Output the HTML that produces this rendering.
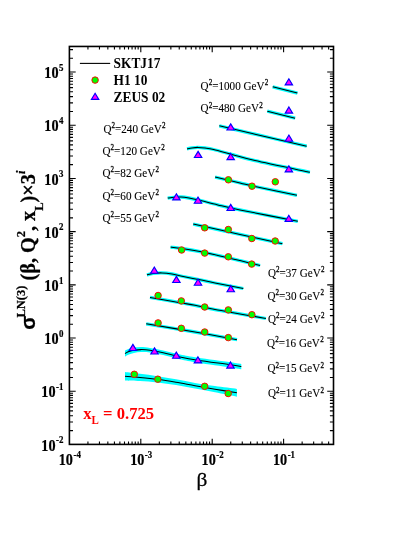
<!DOCTYPE html>
<html><head><meta charset="utf-8"><title>chart</title>
<style>html,body{margin:0;padding:0;background:#fff;}svg{display:block;will-change:transform;}</style></head>
<body><svg width="415" height="537" viewBox="0 0 415 537">
<rect width="415" height="537" fill="#fff"/>
<path d="M125.00,372.10 C127.50,372.39 134.60,373.17 140.00,373.85 C145.40,374.52 151.40,375.23 157.40,376.15 C163.40,377.07 169.73,378.22 176.00,379.35 C182.27,380.47 188.50,381.77 195.00,382.90 C201.50,384.02 208.02,385.10 215.00,386.10 C221.98,387.10 233.25,388.43 236.90,388.90 L236.90,396.70 C233.25,395.97 221.98,393.67 215.00,392.30 C208.02,390.93 201.50,389.71 195.00,388.50 C188.50,387.29 182.27,386.06 176.00,385.05 C169.73,384.04 163.40,383.12 157.40,382.45 C151.40,381.78 145.40,381.38 140.00,381.05 C134.60,380.73 127.50,380.59 125.00,380.50 Z" fill="#00ffff"/>
<path d="M125.00,350.50 C125.67,350.21 127.50,349.23 129.00,348.75 C130.50,348.27 132.00,347.88 134.00,347.60 C136.00,347.33 138.33,347.05 141.00,347.10 C143.67,347.15 146.30,347.34 150.00,347.90 C153.70,348.46 158.20,349.34 163.20,350.45 C168.20,351.56 174.22,353.33 180.00,354.55 C185.78,355.77 189.48,356.48 197.90,357.75 C206.32,359.02 223.27,361.17 230.50,362.20 C237.73,363.23 239.50,363.62 241.30,363.90 L241.30,369.30 C239.50,368.98 237.73,368.51 230.50,367.40 C223.27,366.29 206.32,364.01 197.90,362.65 C189.48,361.29 185.78,360.53 180.00,359.25 C174.22,357.97 168.20,356.07 163.20,354.95 C158.20,353.82 153.70,352.98 150.00,352.50 C146.30,352.02 143.67,352.02 141.00,352.10 C138.33,352.18 136.00,352.61 134.00,353.00 C132.00,353.39 130.50,353.87 129.00,354.45 C127.50,355.03 125.67,356.16 125.00,356.50 Z" fill="#00ffff"/>
<path d="M272.70,86.80 L297.40,93.10" fill="none" stroke="#00ffff" stroke-width="3.3" stroke-linecap="butt" stroke-linejoin="round"/>
<path d="M267.30,111.20 L295.10,118.20" fill="none" stroke="#00ffff" stroke-width="3.3" stroke-linecap="butt" stroke-linejoin="round"/>
<path d="M219.30,125.80 C225.25,127.20 240.43,130.80 255.00,134.20 C269.57,137.60 298.08,144.20 306.70,146.20" fill="none" stroke="#00ffff" stroke-width="3.3" stroke-linecap="butt" stroke-linejoin="round"/>
<path d="M187.00,148.90 C187.83,148.73 190.17,148.15 192.00,147.90 C193.83,147.65 195.83,147.38 198.00,147.40 C200.17,147.42 202.40,147.65 205.00,148.00 C207.60,148.35 208.97,148.38 213.60,149.50 C218.23,150.62 225.90,152.85 232.80,154.70 C239.70,156.55 242.15,157.67 255.00,160.60 C267.85,163.53 300.75,170.35 309.90,172.30" fill="none" stroke="#00ffff" stroke-width="3.3" stroke-linecap="butt" stroke-linejoin="round"/>
<path d="M215.10,177.10 C219.25,178.07 233.35,181.33 240.00,182.90 C246.65,184.47 245.52,184.43 255.00,186.50 C264.48,188.57 289.92,193.83 296.90,195.30" fill="none" stroke="#00ffff" stroke-width="3.3" stroke-linecap="butt" stroke-linejoin="round"/>
<path d="M167.70,198.10 C168.75,197.97 171.75,197.48 174.00,197.30 C176.25,197.12 178.70,196.88 181.20,197.00 C183.70,197.12 186.10,197.50 189.00,198.00 C191.90,198.50 193.80,198.85 198.60,200.00 C203.40,201.15 210.90,203.25 217.80,204.90 C224.70,206.55 226.67,207.17 240.00,209.90 C253.33,212.63 288.17,219.40 297.80,221.30" fill="none" stroke="#00ffff" stroke-width="3.3" stroke-linecap="butt" stroke-linejoin="round"/>
<path d="M193.20,224.10 C201.00,225.82 225.13,231.13 240.00,234.40 C254.87,237.67 275.33,242.15 282.40,243.70" fill="none" stroke="#00ffff" stroke-width="3.3" stroke-linecap="butt" stroke-linejoin="round"/>
<path d="M170.60,247.10 C173.00,247.42 180.10,248.25 185.00,249.00 C189.90,249.75 194.17,250.45 200.00,251.60 C205.83,252.75 213.33,254.40 220.00,255.90 C226.67,257.40 233.32,259.00 240.00,260.60 C246.68,262.20 256.75,264.68 260.10,265.50" fill="none" stroke="#00ffff" stroke-width="3.3" stroke-linecap="butt" stroke-linejoin="round"/>
<path d="M146.95,274.90 C147.96,274.65 150.49,273.73 153.00,273.40 C155.51,273.07 158.83,272.80 162.00,272.90 C165.17,273.00 168.47,273.40 172.00,274.00 C175.53,274.60 178.53,275.53 183.20,276.50 C187.87,277.47 194.70,278.72 200.00,279.80 C205.30,280.88 207.78,281.55 215.00,283.00 C222.22,284.45 238.58,287.58 243.30,288.50" fill="none" stroke="#00ffff" stroke-width="3.3" stroke-linecap="butt" stroke-linejoin="round"/>
<path d="M150.00,297.40 C155.00,298.28 172.50,301.38 180.00,302.70 C187.50,304.02 189.17,304.15 195.00,305.30 C200.83,306.45 207.50,308.17 215.00,309.60 C222.50,311.03 231.52,312.42 240.00,313.90 C248.48,315.38 261.58,317.73 265.90,318.50" fill="none" stroke="#00ffff" stroke-width="3.3" stroke-linecap="butt" stroke-linejoin="round"/>
<path d="M146.20,323.80 C154.33,325.17 179.87,329.35 195.00,332.00 C210.13,334.65 230.00,338.42 237.00,339.70" fill="none" stroke="#00ffff" stroke-width="3.3" stroke-linecap="butt" stroke-linejoin="round"/>
<path d="M272.70,86.80 L297.40,93.10" fill="none" stroke="#000" stroke-width="1.05" stroke-linejoin="round"/>
<path d="M267.30,111.20 L295.10,118.20" fill="none" stroke="#000" stroke-width="1.05" stroke-linejoin="round"/>
<path d="M219.30,125.80 C225.25,127.20 240.43,130.80 255.00,134.20 C269.57,137.60 298.08,144.20 306.70,146.20" fill="none" stroke="#000" stroke-width="1.05" stroke-linejoin="round"/>
<path d="M187.00,148.90 C187.83,148.73 190.17,148.15 192.00,147.90 C193.83,147.65 195.83,147.38 198.00,147.40 C200.17,147.42 202.40,147.65 205.00,148.00 C207.60,148.35 208.97,148.38 213.60,149.50 C218.23,150.62 225.90,152.85 232.80,154.70 C239.70,156.55 242.15,157.67 255.00,160.60 C267.85,163.53 300.75,170.35 309.90,172.30" fill="none" stroke="#000" stroke-width="1.05" stroke-linejoin="round"/>
<path d="M215.10,177.10 C219.25,178.07 233.35,181.33 240.00,182.90 C246.65,184.47 245.52,184.43 255.00,186.50 C264.48,188.57 289.92,193.83 296.90,195.30" fill="none" stroke="#000" stroke-width="1.05" stroke-linejoin="round"/>
<path d="M167.70,198.10 C168.75,197.97 171.75,197.48 174.00,197.30 C176.25,197.12 178.70,196.88 181.20,197.00 C183.70,197.12 186.10,197.50 189.00,198.00 C191.90,198.50 193.80,198.85 198.60,200.00 C203.40,201.15 210.90,203.25 217.80,204.90 C224.70,206.55 226.67,207.17 240.00,209.90 C253.33,212.63 288.17,219.40 297.80,221.30" fill="none" stroke="#000" stroke-width="1.05" stroke-linejoin="round"/>
<path d="M193.20,224.10 C201.00,225.82 225.13,231.13 240.00,234.40 C254.87,237.67 275.33,242.15 282.40,243.70" fill="none" stroke="#000" stroke-width="1.05" stroke-linejoin="round"/>
<path d="M170.60,247.10 C173.00,247.42 180.10,248.25 185.00,249.00 C189.90,249.75 194.17,250.45 200.00,251.60 C205.83,252.75 213.33,254.40 220.00,255.90 C226.67,257.40 233.32,259.00 240.00,260.60 C246.68,262.20 256.75,264.68 260.10,265.50" fill="none" stroke="#000" stroke-width="1.05" stroke-linejoin="round"/>
<path d="M146.95,274.90 C147.96,274.65 150.49,273.73 153.00,273.40 C155.51,273.07 158.83,272.80 162.00,272.90 C165.17,273.00 168.47,273.40 172.00,274.00 C175.53,274.60 178.53,275.53 183.20,276.50 C187.87,277.47 194.70,278.72 200.00,279.80 C205.30,280.88 207.78,281.55 215.00,283.00 C222.22,284.45 238.58,287.58 243.30,288.50" fill="none" stroke="#000" stroke-width="1.05" stroke-linejoin="round"/>
<path d="M150.00,297.40 C155.00,298.28 172.50,301.38 180.00,302.70 C187.50,304.02 189.17,304.15 195.00,305.30 C200.83,306.45 207.50,308.17 215.00,309.60 C222.50,311.03 231.52,312.42 240.00,313.90 C248.48,315.38 261.58,317.73 265.90,318.50" fill="none" stroke="#000" stroke-width="1.05" stroke-linejoin="round"/>
<path d="M146.20,323.80 C154.33,325.17 179.87,329.35 195.00,332.00 C210.13,334.65 230.00,338.42 237.00,339.70" fill="none" stroke="#000" stroke-width="1.05" stroke-linejoin="round"/>
<path d="M125.00,353.50 C125.67,353.18 127.50,352.13 129.00,351.60 C130.50,351.07 132.00,350.63 134.00,350.30 C136.00,349.97 138.33,349.62 141.00,349.60 C143.67,349.58 146.30,349.68 150.00,350.20 C153.70,350.72 158.20,351.58 163.20,352.70 C168.20,353.82 174.22,355.65 180.00,356.90 C185.78,358.15 189.48,358.88 197.90,360.20 C206.32,361.52 223.27,363.73 230.50,364.80 C237.73,365.87 239.50,366.30 241.30,366.60" fill="none" stroke="#000" stroke-width="1.05" stroke-linejoin="round"/>
<path d="M125.00,376.30 C127.50,376.49 134.60,376.95 140.00,377.45 C145.40,377.95 151.40,378.51 157.40,379.30 C163.40,380.09 169.73,381.13 176.00,382.20 C182.27,383.27 188.50,384.53 195.00,385.70 C201.50,386.87 208.02,388.02 215.00,389.20 C221.98,390.38 233.25,392.20 236.90,392.80" fill="none" stroke="#000" stroke-width="1.05" stroke-linejoin="round"/>
<circle cx="228.4" cy="179.8" r="3.25" fill="#00ff00" stroke="#ff0000" stroke-width="0.95"/>
<circle cx="252.0" cy="186.2" r="3.25" fill="#00ff00" stroke="#ff0000" stroke-width="0.95"/>
<circle cx="275.3" cy="181.8" r="3.25" fill="#00ff00" stroke="#ff0000" stroke-width="0.95"/>
<circle cx="204.7" cy="227.8" r="3.25" fill="#00ff00" stroke="#ff0000" stroke-width="0.95"/>
<circle cx="228.3" cy="229.5" r="3.25" fill="#00ff00" stroke="#ff0000" stroke-width="0.95"/>
<circle cx="251.8" cy="238.5" r="3.25" fill="#00ff00" stroke="#ff0000" stroke-width="0.95"/>
<circle cx="275.2" cy="241.0" r="3.25" fill="#00ff00" stroke="#ff0000" stroke-width="0.95"/>
<circle cx="181.6" cy="250.0" r="3.25" fill="#00ff00" stroke="#ff0000" stroke-width="0.95"/>
<circle cx="204.7" cy="253.1" r="3.25" fill="#00ff00" stroke="#ff0000" stroke-width="0.95"/>
<circle cx="228.3" cy="256.8" r="3.25" fill="#00ff00" stroke="#ff0000" stroke-width="0.95"/>
<circle cx="251.7" cy="264.1" r="3.25" fill="#00ff00" stroke="#ff0000" stroke-width="0.95"/>
<circle cx="158.1" cy="295.5" r="3.25" fill="#00ff00" stroke="#ff0000" stroke-width="0.95"/>
<circle cx="181.3" cy="300.9" r="3.25" fill="#00ff00" stroke="#ff0000" stroke-width="0.95"/>
<circle cx="204.7" cy="307.0" r="3.25" fill="#00ff00" stroke="#ff0000" stroke-width="0.95"/>
<circle cx="228.3" cy="309.9" r="3.25" fill="#00ff00" stroke="#ff0000" stroke-width="0.95"/>
<circle cx="251.9" cy="314.7" r="3.25" fill="#00ff00" stroke="#ff0000" stroke-width="0.95"/>
<circle cx="158.1" cy="322.9" r="3.25" fill="#00ff00" stroke="#ff0000" stroke-width="0.95"/>
<circle cx="181.3" cy="328.3" r="3.25" fill="#00ff00" stroke="#ff0000" stroke-width="0.95"/>
<circle cx="204.7" cy="332.0" r="3.25" fill="#00ff00" stroke="#ff0000" stroke-width="0.95"/>
<circle cx="228.3" cy="337.6" r="3.25" fill="#00ff00" stroke="#ff0000" stroke-width="0.95"/>
<circle cx="134.3" cy="374.3" r="3.25" fill="#00ff00" stroke="#ff0000" stroke-width="0.95"/>
<circle cx="157.8" cy="379.2" r="3.25" fill="#00ff00" stroke="#ff0000" stroke-width="0.95"/>
<circle cx="204.7" cy="386.3" r="3.25" fill="#00ff00" stroke="#ff0000" stroke-width="0.95"/>
<circle cx="228.2" cy="393.5" r="3.25" fill="#00ff00" stroke="#ff0000" stroke-width="0.95"/>
<path d="M288.85,78.75 L292.55,84.90 L285.15,84.90 Z" fill="#ff00ff" stroke="#0000ff" stroke-width="1.15" stroke-linejoin="miter"/>
<path d="M288.90,106.95 L292.60,113.10 L285.20,113.10 Z" fill="#ff00ff" stroke="#0000ff" stroke-width="1.15" stroke-linejoin="miter"/>
<path d="M230.70,123.85 L234.40,130.00 L227.00,130.00 Z" fill="#ff00ff" stroke="#0000ff" stroke-width="1.15" stroke-linejoin="miter"/>
<path d="M288.90,135.05 L292.60,141.20 L285.20,141.20 Z" fill="#ff00ff" stroke="#0000ff" stroke-width="1.15" stroke-linejoin="miter"/>
<path d="M198.10,151.35 L201.80,157.50 L194.40,157.50 Z" fill="#ff00ff" stroke="#0000ff" stroke-width="1.15" stroke-linejoin="miter"/>
<path d="M230.70,153.45 L234.40,159.60 L227.00,159.60 Z" fill="#ff00ff" stroke="#0000ff" stroke-width="1.15" stroke-linejoin="miter"/>
<path d="M288.85,165.75 L292.55,171.90 L285.15,171.90 Z" fill="#ff00ff" stroke="#0000ff" stroke-width="1.15" stroke-linejoin="miter"/>
<path d="M176.40,193.75 L180.10,199.90 L172.70,199.90 Z" fill="#ff00ff" stroke="#0000ff" stroke-width="1.15" stroke-linejoin="miter"/>
<path d="M198.00,197.05 L201.70,203.20 L194.30,203.20 Z" fill="#ff00ff" stroke="#0000ff" stroke-width="1.15" stroke-linejoin="miter"/>
<path d="M230.70,204.35 L234.40,210.50 L227.00,210.50 Z" fill="#ff00ff" stroke="#0000ff" stroke-width="1.15" stroke-linejoin="miter"/>
<path d="M288.80,215.25 L292.50,221.40 L285.10,221.40 Z" fill="#ff00ff" stroke="#0000ff" stroke-width="1.15" stroke-linejoin="miter"/>
<path d="M154.30,267.05 L158.00,273.20 L150.60,273.20 Z" fill="#ff00ff" stroke="#0000ff" stroke-width="1.15" stroke-linejoin="miter"/>
<path d="M176.40,276.35 L180.10,282.50 L172.70,282.50 Z" fill="#ff00ff" stroke="#0000ff" stroke-width="1.15" stroke-linejoin="miter"/>
<path d="M198.00,279.05 L201.70,285.20 L194.30,285.20 Z" fill="#ff00ff" stroke="#0000ff" stroke-width="1.15" stroke-linejoin="miter"/>
<path d="M230.75,285.60 L234.45,291.75 L227.05,291.75 Z" fill="#ff00ff" stroke="#0000ff" stroke-width="1.15" stroke-linejoin="miter"/>
<path d="M132.90,344.35 L136.60,350.50 L129.20,350.50 Z" fill="#ff00ff" stroke="#0000ff" stroke-width="1.15" stroke-linejoin="miter"/>
<path d="M154.50,347.85 L158.20,354.00 L150.80,354.00 Z" fill="#ff00ff" stroke="#0000ff" stroke-width="1.15" stroke-linejoin="miter"/>
<path d="M176.30,352.05 L180.00,358.20 L172.60,358.20 Z" fill="#ff00ff" stroke="#0000ff" stroke-width="1.15" stroke-linejoin="miter"/>
<path d="M197.90,356.75 L201.60,362.90 L194.20,362.90 Z" fill="#ff00ff" stroke="#0000ff" stroke-width="1.15" stroke-linejoin="miter"/>
<path d="M230.50,361.95 L234.20,368.10 L226.80,368.10 Z" fill="#ff00ff" stroke="#0000ff" stroke-width="1.15" stroke-linejoin="miter"/>
<rect x="69.4" y="46.45" width="264.1" height="397.95" fill="none" stroke="#000" stroke-width="1.6"/>
<path d="M87.94,444.40L87.94,441.40M87.94,46.45L87.94,49.45M99.46,444.40L99.46,441.40M99.46,46.45L99.46,49.45M107.84,444.40L107.84,441.40M107.84,46.45L107.84,49.45M114.43,444.40L114.43,441.40M114.43,46.45L114.43,49.45M119.87,444.40L119.87,441.40M119.87,46.45L119.87,49.45M124.49,444.40L124.49,441.40M124.49,46.45L124.49,49.45M128.51,444.40L128.51,441.40M128.51,46.45L128.51,49.45M132.07,444.40L132.07,441.40M132.07,46.45L132.07,49.45M135.26,444.40L135.26,441.40M135.26,46.45L135.26,49.45M138.15,444.40L138.15,441.40M138.15,46.45L138.15,49.45M140.80,444.40L140.80,438.70M140.80,46.45L140.80,52.15M159.34,444.40L159.34,441.40M159.34,46.45L159.34,49.45M170.86,444.40L170.86,441.40M170.86,46.45L170.86,49.45M179.24,444.40L179.24,441.40M179.24,46.45L179.24,49.45M185.83,444.40L185.83,441.40M185.83,46.45L185.83,49.45M191.27,444.40L191.27,441.40M191.27,46.45L191.27,49.45M195.89,444.40L195.89,441.40M195.89,46.45L195.89,49.45M199.91,444.40L199.91,441.40M199.91,46.45L199.91,49.45M203.47,444.40L203.47,441.40M203.47,46.45L203.47,49.45M206.66,444.40L206.66,441.40M206.66,46.45L206.66,49.45M209.55,444.40L209.55,441.40M209.55,46.45L209.55,49.45M212.20,444.40L212.20,438.70M212.20,46.45L212.20,52.15M230.74,444.40L230.74,441.40M230.74,46.45L230.74,49.45M242.26,444.40L242.26,441.40M242.26,46.45L242.26,49.45M250.64,444.40L250.64,441.40M250.64,46.45L250.64,49.45M257.23,444.40L257.23,441.40M257.23,46.45L257.23,49.45M262.67,444.40L262.67,441.40M262.67,46.45L262.67,49.45M267.29,444.40L267.29,441.40M267.29,46.45L267.29,49.45M271.31,444.40L271.31,441.40M271.31,46.45L271.31,49.45M274.87,444.40L274.87,441.40M274.87,46.45L274.87,49.45M278.06,444.40L278.06,441.40M278.06,46.45L278.06,49.45M280.95,444.40L280.95,441.40M280.95,46.45L280.95,49.45M283.60,444.40L283.60,438.70M283.60,46.45L283.60,52.15M302.14,444.40L302.14,441.40M302.14,46.45L302.14,49.45M313.66,444.40L313.66,441.40M313.66,46.45L313.66,49.45M322.04,444.40L322.04,441.40M322.04,46.45L322.04,49.45M328.63,444.40L328.63,441.40M328.63,46.45L328.63,49.45M69.40,430.64L73.00,430.64M333.50,430.64L329.90,430.64M69.40,422.05L73.00,422.05M333.50,422.05L329.90,422.05M69.40,415.81L73.00,415.81M333.50,415.81L329.90,415.81M69.40,410.90L73.00,410.90M333.50,410.90L329.90,410.90M69.40,406.85L73.00,406.85M333.50,406.85L329.90,406.85M69.40,403.41L73.00,403.41M333.50,403.41L329.90,403.41M69.40,400.41L73.00,400.41M333.50,400.41L329.90,400.41M69.40,397.76L73.00,397.76M333.50,397.76L329.90,397.76M69.40,395.38L73.00,395.38M333.50,395.38L329.90,395.38M69.40,393.22L73.00,393.22M333.50,393.22L329.90,393.22M69.40,391.25L75.70,391.25M333.50,391.25L327.20,391.25M69.40,377.44L73.00,377.44M333.50,377.44L329.90,377.44M69.40,368.85L73.00,368.85M333.50,368.85L329.90,368.85M69.40,362.61L73.00,362.61M333.50,362.61L329.90,362.61M69.40,357.70L73.00,357.70M333.50,357.70L329.90,357.70M69.40,353.65L73.00,353.65M333.50,353.65L329.90,353.65M69.40,350.21L73.00,350.21M333.50,350.21L329.90,350.21M69.40,347.21L73.00,347.21M333.50,347.21L329.90,347.21M69.40,344.56L73.00,344.56M333.50,344.56L329.90,344.56M69.40,342.18L73.00,342.18M333.50,342.18L329.90,342.18M69.40,340.02L73.00,340.02M333.50,340.02L329.90,340.02M69.40,338.05L75.70,338.05M333.50,338.05L327.20,338.05M69.40,324.24L73.00,324.24M333.50,324.24L329.90,324.24M69.40,315.65L73.00,315.65M333.50,315.65L329.90,315.65M69.40,309.41L73.00,309.41M333.50,309.41L329.90,309.41M69.40,304.50L73.00,304.50M333.50,304.50L329.90,304.50M69.40,300.45L73.00,300.45M333.50,300.45L329.90,300.45M69.40,297.01L73.00,297.01M333.50,297.01L329.90,297.01M69.40,294.01L73.00,294.01M333.50,294.01L329.90,294.01M69.40,291.36L73.00,291.36M333.50,291.36L329.90,291.36M69.40,288.98L73.00,288.98M333.50,288.98L329.90,288.98M69.40,286.82L73.00,286.82M333.50,286.82L329.90,286.82M69.40,284.85L75.70,284.85M333.50,284.85L327.20,284.85M69.40,271.04L73.00,271.04M333.50,271.04L329.90,271.04M69.40,262.45L73.00,262.45M333.50,262.45L329.90,262.45M69.40,256.21L73.00,256.21M333.50,256.21L329.90,256.21M69.40,251.30L73.00,251.30M333.50,251.30L329.90,251.30M69.40,247.25L73.00,247.25M333.50,247.25L329.90,247.25M69.40,243.81L73.00,243.81M333.50,243.81L329.90,243.81M69.40,240.81L73.00,240.81M333.50,240.81L329.90,240.81M69.40,238.16L73.00,238.16M333.50,238.16L329.90,238.16M69.40,235.78L73.00,235.78M333.50,235.78L329.90,235.78M69.40,233.62L73.00,233.62M333.50,233.62L329.90,233.62M69.40,231.65L75.70,231.65M333.50,231.65L327.20,231.65M69.40,217.84L73.00,217.84M333.50,217.84L329.90,217.84M69.40,209.25L73.00,209.25M333.50,209.25L329.90,209.25M69.40,203.01L73.00,203.01M333.50,203.01L329.90,203.01M69.40,198.10L73.00,198.10M333.50,198.10L329.90,198.10M69.40,194.05L73.00,194.05M333.50,194.05L329.90,194.05M69.40,190.61L73.00,190.61M333.50,190.61L329.90,190.61M69.40,187.61L73.00,187.61M333.50,187.61L329.90,187.61M69.40,184.96L73.00,184.96M333.50,184.96L329.90,184.96M69.40,182.58L73.00,182.58M333.50,182.58L329.90,182.58M69.40,180.42L73.00,180.42M333.50,180.42L329.90,180.42M69.40,178.45L75.70,178.45M333.50,178.45L327.20,178.45M69.40,164.64L73.00,164.64M333.50,164.64L329.90,164.64M69.40,156.05L73.00,156.05M333.50,156.05L329.90,156.05M69.40,149.81L73.00,149.81M333.50,149.81L329.90,149.81M69.40,144.90L73.00,144.90M333.50,144.90L329.90,144.90M69.40,140.85L73.00,140.85M333.50,140.85L329.90,140.85M69.40,137.41L73.00,137.41M333.50,137.41L329.90,137.41M69.40,134.41L73.00,134.41M333.50,134.41L329.90,134.41M69.40,131.76L73.00,131.76M333.50,131.76L329.90,131.76M69.40,129.38L73.00,129.38M333.50,129.38L329.90,129.38M69.40,127.22L73.00,127.22M333.50,127.22L329.90,127.22M69.40,125.25L75.70,125.25M333.50,125.25L327.20,125.25M69.40,111.44L73.00,111.44M333.50,111.44L329.90,111.44M69.40,102.85L73.00,102.85M333.50,102.85L329.90,102.85M69.40,96.61L73.00,96.61M333.50,96.61L329.90,96.61M69.40,91.70L73.00,91.70M333.50,91.70L329.90,91.70M69.40,87.65L73.00,87.65M333.50,87.65L329.90,87.65M69.40,84.21L73.00,84.21M333.50,84.21L329.90,84.21M69.40,81.21L73.00,81.21M333.50,81.21L329.90,81.21M69.40,78.56L73.00,78.56M333.50,78.56L329.90,78.56M69.40,76.18L73.00,76.18M333.50,76.18L329.90,76.18M69.40,74.02L73.00,74.02M333.50,74.02L329.90,74.02M69.40,72.05L75.70,72.05M333.50,72.05L327.20,72.05M69.40,58.24L73.00,58.24M333.50,58.24L329.90,58.24M69.40,49.65L73.00,49.65M333.50,49.65L329.90,49.65" stroke="#000" stroke-width="1.1" fill="none"/>
<text transform="translate(63.5,450.6) scale(0.9,1)" font-family="Liberation Serif, serif" font-weight="bold" font-size="15.8" text-anchor="end" fill="#000" stroke="#000" stroke-width="0.2">10<tspan font-size="9.9" dy="-7.3" dx="0.6">-2</tspan></text>
<text transform="translate(63.5,397.4) scale(0.9,1)" font-family="Liberation Serif, serif" font-weight="bold" font-size="15.8" text-anchor="end" fill="#000" stroke="#000" stroke-width="0.2">10<tspan font-size="9.9" dy="-7.3" dx="0.6">-1</tspan></text>
<text transform="translate(63.5,344.1) scale(0.9,1)" font-family="Liberation Serif, serif" font-weight="bold" font-size="15.8" text-anchor="end" fill="#000" stroke="#000" stroke-width="0.2">10<tspan font-size="9.9" dy="-7.3" dx="0.6">0</tspan></text>
<text transform="translate(63.5,290.9) scale(0.9,1)" font-family="Liberation Serif, serif" font-weight="bold" font-size="15.8" text-anchor="end" fill="#000" stroke="#000" stroke-width="0.2">10<tspan font-size="9.9" dy="-7.3" dx="0.6">1</tspan></text>
<text transform="translate(63.5,237.7) scale(0.9,1)" font-family="Liberation Serif, serif" font-weight="bold" font-size="15.8" text-anchor="end" fill="#000" stroke="#000" stroke-width="0.2">10<tspan font-size="9.9" dy="-7.3" dx="0.6">2</tspan></text>
<text transform="translate(63.5,184.5) scale(0.9,1)" font-family="Liberation Serif, serif" font-weight="bold" font-size="15.8" text-anchor="end" fill="#000" stroke="#000" stroke-width="0.2">10<tspan font-size="9.9" dy="-7.3" dx="0.6">3</tspan></text>
<text transform="translate(63.5,131.3) scale(0.9,1)" font-family="Liberation Serif, serif" font-weight="bold" font-size="15.8" text-anchor="end" fill="#000" stroke="#000" stroke-width="0.2">10<tspan font-size="9.9" dy="-7.3" dx="0.6">4</tspan></text>
<text transform="translate(63.5,78.1) scale(0.9,1)" font-family="Liberation Serif, serif" font-weight="bold" font-size="15.8" text-anchor="end" fill="#000" stroke="#000" stroke-width="0.2">10<tspan font-size="9.9" dy="-7.3" dx="0.6">5</tspan></text>
<text transform="translate(69.8,464.9) scale(0.9,1)" font-family="Liberation Serif, serif" font-weight="bold" font-size="15.8" text-anchor="middle" fill="#000" stroke="#000" stroke-width="0.2">10<tspan font-size="9.9" dy="-7.3" dx="0.6">-4</tspan></text>
<text transform="translate(141.2,464.9) scale(0.9,1)" font-family="Liberation Serif, serif" font-weight="bold" font-size="15.8" text-anchor="middle" fill="#000" stroke="#000" stroke-width="0.2">10<tspan font-size="9.9" dy="-7.3" dx="0.6">-3</tspan></text>
<text transform="translate(212.6,464.9) scale(0.9,1)" font-family="Liberation Serif, serif" font-weight="bold" font-size="15.8" text-anchor="middle" fill="#000" stroke="#000" stroke-width="0.2">10<tspan font-size="9.9" dy="-7.3" dx="0.6">-2</tspan></text>
<text transform="translate(284.0,464.9) scale(0.9,1)" font-family="Liberation Serif, serif" font-weight="bold" font-size="15.8" text-anchor="middle" fill="#000" stroke="#000" stroke-width="0.2">10<tspan font-size="9.9" dy="-7.3" dx="0.6">-1</tspan></text>
<text transform="translate(201.9,486.1) scale(1.08,1)" font-family="Liberation Serif, serif" font-size="19.8" text-anchor="middle" fill="#000" stroke="#000" stroke-width="0.25">β</text>
<text transform="translate(35.2,251.8) rotate(-90)" font-family="Liberation Serif, serif" font-weight="bold" font-size="20.25" text-anchor="middle" fill="#000" stroke="#000" stroke-width="0.25"><tspan font-family="Liberation Sans, sans-serif" dx="1.7">σ</tspan><tspan font-size="12.5" dy="-9.8" dx="-1.7">LN(3)</tspan><tspan dy="9.8"> (β, Q</tspan><tspan font-size="12.5" dy="-9.8">2</tspan><tspan dy="9.8">, x</tspan><tspan font-size="12.5" dy="7.4">L</tspan><tspan dy="-7.4">)×3</tspan><tspan font-size="12.5" dy="-9.8" font-style="italic">i</tspan></text>
<path d="M79.9,63.4 L110.2,63.4" stroke="#000" stroke-width="1.1"/>
<circle cx="95.1" cy="80.1" r="3.25" fill="#00ff00" stroke="#ff0000" stroke-width="0.95"/>
<path d="M95.10,93.25 L98.80,99.40 L91.40,99.40 Z" fill="#ff00ff" stroke="#0000ff" stroke-width="1.15" stroke-linejoin="miter"/>
<text transform="translate(113.6,68.2) scale(0.93,1)" font-family="Liberation Serif, serif" font-weight="bold" font-size="14.4" fill="#000">SKTJ17</text>
<text transform="translate(113.6,84.8) scale(0.93,1)" font-family="Liberation Serif, serif" font-weight="bold" font-size="14.4" fill="#000">H1 10</text>
<text transform="translate(113.6,101.5) scale(0.93,1)" font-family="Liberation Serif, serif" font-weight="bold" font-size="14.4" fill="#000">ZEUS 02</text>
<text transform="translate(103.4,132.7) scale(0.96,1)" font-family="Liberation Serif, serif" font-size="11.6" fill="#000" stroke="#000" stroke-width="0.1">Q<tspan font-size="7.4" dy="-4.7" stroke-width="0.25">2</tspan><tspan dy="4.7">=240 GeV</tspan><tspan font-size="7.4" dy="-4.7" dx="0.3" stroke-width="0.25">2</tspan></text>
<text transform="translate(102.5,154.9) scale(0.96,1)" font-family="Liberation Serif, serif" font-size="11.6" fill="#000" stroke="#000" stroke-width="0.1">Q<tspan font-size="7.4" dy="-4.7" stroke-width="0.25">2</tspan><tspan dy="4.7">=120 GeV</tspan><tspan font-size="7.4" dy="-4.7" dx="0.3" stroke-width="0.25">2</tspan></text>
<text transform="translate(102.5,177.0) scale(0.96,1)" font-family="Liberation Serif, serif" font-size="11.6" fill="#000" stroke="#000" stroke-width="0.1">Q<tspan font-size="7.4" dy="-4.7" stroke-width="0.25">2</tspan><tspan dy="4.7">=82 GeV</tspan><tspan font-size="7.4" dy="-4.7" dx="0.3" stroke-width="0.25">2</tspan></text>
<text transform="translate(102.5,200.1) scale(0.96,1)" font-family="Liberation Serif, serif" font-size="11.6" fill="#000" stroke="#000" stroke-width="0.1">Q<tspan font-size="7.4" dy="-4.7" stroke-width="0.25">2</tspan><tspan dy="4.7">=60 GeV</tspan><tspan font-size="7.4" dy="-4.7" dx="0.3" stroke-width="0.25">2</tspan></text>
<text transform="translate(102.5,221.7) scale(0.96,1)" font-family="Liberation Serif, serif" font-size="11.6" fill="#000" stroke="#000" stroke-width="0.1">Q<tspan font-size="7.4" dy="-4.7" stroke-width="0.25">2</tspan><tspan dy="4.7">=55 GeV</tspan><tspan font-size="7.4" dy="-4.7" dx="0.3" stroke-width="0.25">2</tspan></text>
<text transform="translate(267.9,277.0) scale(0.96,1)" font-family="Liberation Serif, serif" font-size="11.6" fill="#000" stroke="#000" stroke-width="0.1">Q<tspan font-size="7.4" dy="-4.7" stroke-width="0.25">2</tspan><tspan dy="4.7">=37 GeV</tspan><tspan font-size="7.4" dy="-4.7" dx="0.3" stroke-width="0.25">2</tspan></text>
<text transform="translate(267.5,300.1) scale(0.96,1)" font-family="Liberation Serif, serif" font-size="11.6" fill="#000" stroke="#000" stroke-width="0.1">Q<tspan font-size="7.4" dy="-4.7" stroke-width="0.25">2</tspan><tspan dy="4.7">=30 GeV</tspan><tspan font-size="7.4" dy="-4.7" dx="0.3" stroke-width="0.25">2</tspan></text>
<text transform="translate(267.9,322.6) scale(0.96,1)" font-family="Liberation Serif, serif" font-size="11.6" fill="#000" stroke="#000" stroke-width="0.1">Q<tspan font-size="7.4" dy="-4.7" stroke-width="0.25">2</tspan><tspan dy="4.7">=24 GeV</tspan><tspan font-size="7.4" dy="-4.7" dx="0.3" stroke-width="0.25">2</tspan></text>
<text transform="translate(267.1,347.0) scale(0.96,1)" font-family="Liberation Serif, serif" font-size="11.6" fill="#000" stroke="#000" stroke-width="0.1">Q<tspan font-size="7.4" dy="-4.7" stroke-width="0.25">2</tspan><tspan dy="4.7">=16 GeV</tspan><tspan font-size="7.4" dy="-4.7" dx="0.3" stroke-width="0.25">2</tspan></text>
<text transform="translate(267.5,372.4) scale(0.96,1)" font-family="Liberation Serif, serif" font-size="11.6" fill="#000" stroke="#000" stroke-width="0.1">Q<tspan font-size="7.4" dy="-4.7" stroke-width="0.25">2</tspan><tspan dy="4.7">=15 GeV</tspan><tspan font-size="7.4" dy="-4.7" dx="0.3" stroke-width="0.25">2</tspan></text>
<text transform="translate(267.9,397.4) scale(0.96,1)" font-family="Liberation Serif, serif" font-size="11.6" fill="#000" stroke="#000" stroke-width="0.1">Q<tspan font-size="7.4" dy="-4.7" stroke-width="0.25">2</tspan><tspan dy="4.7">=11 GeV</tspan><tspan font-size="7.4" dy="-4.7" dx="0.3" stroke-width="0.25">2</tspan></text>
<text transform="translate(200.6,90.1) scale(0.96,1)" font-family="Liberation Serif, serif" font-size="11.6" fill="#000" stroke="#000" stroke-width="0.1">Q<tspan font-size="7.4" dy="-4.7" stroke-width="0.25">2</tspan><tspan dy="4.7">=1000 GeV</tspan><tspan font-size="7.4" dy="-4.7" dx="0.3" stroke-width="0.25">2</tspan></text>
<text transform="translate(200.6,112.4) scale(0.96,1)" font-family="Liberation Serif, serif" font-size="11.6" fill="#000" stroke="#000" stroke-width="0.1">Q<tspan font-size="7.4" dy="-4.7" stroke-width="0.25">2</tspan><tspan dy="4.7">=480 GeV</tspan><tspan font-size="7.4" dy="-4.7" dx="0.3" stroke-width="0.25">2</tspan></text>
<text transform="translate(83.3,419.1) scale(0.955,1)" font-family="Liberation Serif, serif" font-weight="bold" font-size="17.4" fill="#ff0000">x<tspan font-size="11.5" dy="4.9">L</tspan><tspan dy="-4.9"> = 0.725</tspan></text>
</svg></body></html>
